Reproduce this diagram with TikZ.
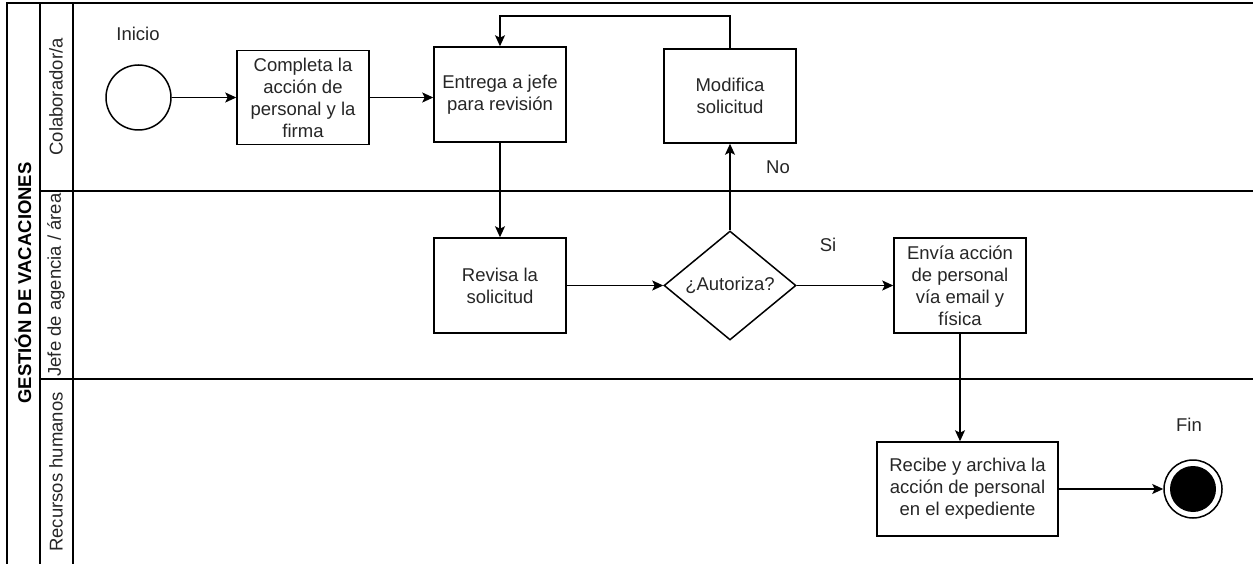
\documentclass[tikz,border=0pt]{standalone}
\usepackage{fontspec}
\setmainfont{Liberation Sans}
\usetikzlibrary{arrows.meta,shapes.geometric}
\begin{document}
\begin{tikzpicture}[x=1pt,y=-1pt,
  every node/.style={font=\fontsize{18.5}{22}\selectfont, text=black!85},
  frame/.style={draw=black, line width=1.5pt},
  task/.style={draw=black, line width=1.5pt, minimum width=132pt, minimum height=95pt, align=center, inner sep=2pt},
  gate/.style={draw=black, line width=1.5pt, diamond, minimum width=132pt, minimum height=109pt, inner sep=0pt, aspect=1.2},
  flow/.style={draw=black, line width=1.5pt, -{Stealth[length=11pt,width=10pt,inset=2.5pt]}}
]
\useasboundingbox (0,0) rectangle (1253,564);
\fill[white] (0,0) rectangle (1253,564);

% pool and lanes
\draw[frame] (1253,3) -- (7,3) -- (7,564);
\draw[frame] (40,3) -- (40,564);
\draw[frame] (73,3) -- (73,564);
\draw[frame] (40,191) -- (1253,191);
\draw[frame] (40,379) -- (1253,379);

\node[rotate=90, font=\fontsize{18.5}{22}\selectfont\bfseries, text=black] (pool) at (23,283) {GESTIÓN DE VACACIONES};
\node[rotate=90] (lane1) at (56,97) {Colaborador/a};
\node[rotate=90] (lane2) at (56,285) {Jefe de agencia / área};
\node[rotate=90] (lane3) at (56,472) {Recursos humanos};

% events
\node[draw=black, line width=1.5pt, circle, minimum size=65pt, inner sep=0pt] (start) at (138.5,97.5) {};
\node (inicio) at (138,34) {Inicio};
\node[draw=black, line width=1.5pt, circle, minimum size=58pt, inner sep=0pt] (fin) at (1193,489) {};
\fill[black] (fin.center) circle (23pt);
\node (finlbl) at (1189,425) {Fin};

% tasks
\node[task, minimum height=94pt] (comp) at (303,97.5) {Completa la\\acción de\\personal y la\\firma};
\node[task] (entrega) at (500,94.5) {Entrega a jefe\\para revisión};
\node[task, minimum height=94pt] (modifica) at (730,96) {Modifica\\solicitud};
\node[task] (revisa) at (500,285.5) {Revisa la\\solicitud};
\node[gate] (autoriza) at (730,285.5) {};
\node (autlbl) at (730,285.5) {¿Autoriza?};
\node[task] (envia) at (960,285.5) {Envía acción\\de personal\\vía email y\\física};
\node[task, minimum width=181pt, minimum height=94pt] (recibe) at (967.5,489) {Recibe y archiva la\\acción de personal\\en el expediente};

% connectors
\coordinate (loopL) at (500,16);
\draw[flow] (start.east) -- (start.east -| comp.west);
\draw[flow] (comp.east) -- (comp.east -| entrega.west);
\draw[flow] (entrega.south) -- (revisa.north);
\draw[flow] (revisa.east) -- (autoriza.west);
\draw[flow] (autoriza.north) -- (modifica.south);
\draw[flow] (modifica.north) |- (loopL) -- (entrega.north);
\draw[flow] (autoriza.east) -- (envia.west);
\draw[flow] (envia.south) -- (envia.south |- recibe.north);
\draw[flow] (recibe.east) -- (fin.west);

\node (no) at (778,167) {No};
\node (si) at (828,245) {Si};
\end{tikzpicture}
\end{document}
